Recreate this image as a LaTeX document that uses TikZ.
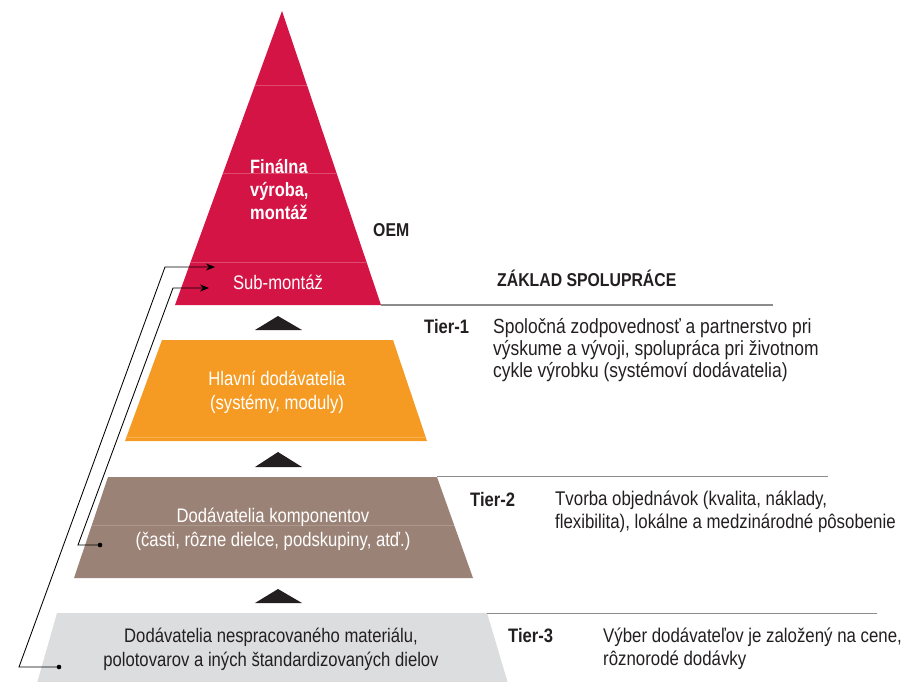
\documentclass[tikz,border=0pt]{standalone}
\usepackage{fontspec}
\setmainfont{Liberation Sans}[FakeStretch=0.85]
\usetikzlibrary{calc,arrows.meta}
\definecolor{redc}{RGB}{213,20,70}
\definecolor{redln}{RGB}{224,74,108}
\definecolor{orangec}{RGB}{245,155,35}
\definecolor{orangeln}{RGB}{249,176,80}
\definecolor{brownc}{RGB}{155,130,118}
\definecolor{brownln}{RGB}{172,151,140}
\definecolor{grayc}{RGB}{220,221,223}
\definecolor{rulec}{RGB}{140,140,140}
\definecolor{txtc}{RGB}{35,31,32}
\tikzset{
  rule/.style={draw=rulec, line width=1.3pt},
  conn/.style={draw=black, line width=0.85pt},
  uparrow/.style={fill=txtc},
  desc/.style={anchor=west, align=left, text=txtc, inner sep=0pt, font=\fontsize{19.8}{22.8}\selectfont},
  tierlbl/.style={anchor=west, text=txtc, inner sep=0pt, font=\fontsize{19.5}{23}\selectfont\bfseries},
  headlbl/.style={anchor=west, text=txtc, inner sep=0pt, font=\fontsize{18.6}{23}\selectfont\bfseries},
  boxtxt/.style={align=center, inner sep=0pt, font=\fontsize{19.6}{24}\selectfont},
}
\begin{document}
\begin{tikzpicture}[x=1pt,y=-1pt]
\useasboundingbox (0,0) rectangle (902,681);
% gray base (clipped at picture bottom)
\begin{scope}
  \clip (0,0) rectangle (902,681);
  \fill[grayc] (57,613) -- (487,613) -- (510,690) -- (35,690) -- cycle;
\end{scope}
% red triangle
\coordinate (apex) at (282,11);
\coordinate (rbl) at (175,305);
\coordinate (rbr) at (381,305);
\fill[redc] (apex) -- (rbr) -- (rbl) -- cycle;
\foreach \t in {0.2517,0.551,0.8537}
  \draw[redln, line width=0.6pt] ($(apex)!\t!(rbl)$) -- ($(apex)!\t!(rbr)$);
% orange trapezoid
\fill[orangec] (162,340) -- (393,340) -- (427,441) -- (125,441) -- cycle;
\draw[orangeln, line width=0.6pt] (126.5,437) -- (425.7,437);
% brown trapezoid
\fill[brownc] (108,477) -- (437,477) -- (473,578) -- (74,578) -- cycle;
\draw[brownln, line width=0.6pt] (91.8,525) -- (454.1,525);
% small up triangles
\fill[uparrow] (278,316) -- (302,330) -- (255,330) -- cycle;
\fill[uparrow] (278,452) -- (302,467) -- (255,467) -- cycle;
\fill[uparrow] (278,589) -- (302,603) -- (255,603) -- cycle;
% rules
\draw[rule] (381,305) -- (773,305);
\draw[rule] (437,476.5) -- (828,476.5);
\draw[rule] (487,613.5) -- (877,613.5);
% texts in pyramid
\node[anchor=west, align=left, inner sep=0pt, text=white, font=\fontsize{19.3}{23}\selectfont\bfseries] (fin) at (250,190) {Finálna\\výroba,\\montáž};
\node[boxtxt, text=white] (sub) at (278,282) {Sub-montáž};
\node[boxtxt, text=white] (hlav) at (277,392) {Hlavní dodávatelia\\(systémy, moduly)};
\node[boxtxt, text=white] (komp) at (273,529) {Dodávatelia komponentov\\(časti, rôzne dielce, podskupiny, atď.)};
\node[boxtxt, text=txtc] (mat) at (271,649) {Dodávatelia nespracovaného materiálu,\\polotovarov a iných štandardizovaných dielov};
% right side texts
\node[headlbl] (oem) at (373,230) {OEM};
\node[headlbl] (zak) at (497,278) {ZÁKLAD SPOLUPRÁCE};
\node[tierlbl] (t1) at (424,327) {Tier-1};
\node[desc, font=\fontsize{20.5}{21.6}\selectfont] (d1) at (493,350) {Spoločná zodpovednosť a partnerstvo pri\\výskume a vývoji, spolupráca pri životnom\\cykle výrobku (systémoví dodávatelia)};
\node[tierlbl] (t2) at (470,500) {Tier-2};
\node[desc] (d2) at (555,512) {Tvorba objednávok (kvalita, náklady,\\flexibilita), lokálne a medzinárodné pôsobenie};
\node[tierlbl] (t3) at (508,636) {Tier-3};
\node[desc] (d3) at (603,649) {Výber dodávateľov je založený na cene,\\rôznorodé dodávky};
% connectors
\coordinate (p1) at (59,667);
\coordinate (c1) at (19,667);
\coordinate (s1) at (165,267);
\coordinate (a1) at (215,267);
\coordinate (p2) at (100,545);
\coordinate (c2) at (78,545);
\coordinate (s2) at (173,288);
\coordinate (a2) at (209,288);
\draw[conn, -{Stealth[length=9pt,width=7pt]}] (p1) -- (c1) -- (s1) -- (a1);
\draw[conn, -{Stealth[length=9pt,width=7pt]}] (p2) -- (c2) -- (s2) -- (a2);
\fill (p1) circle (2.3);
\fill (p2) circle (2.3);
\end{tikzpicture}
\end{document}
